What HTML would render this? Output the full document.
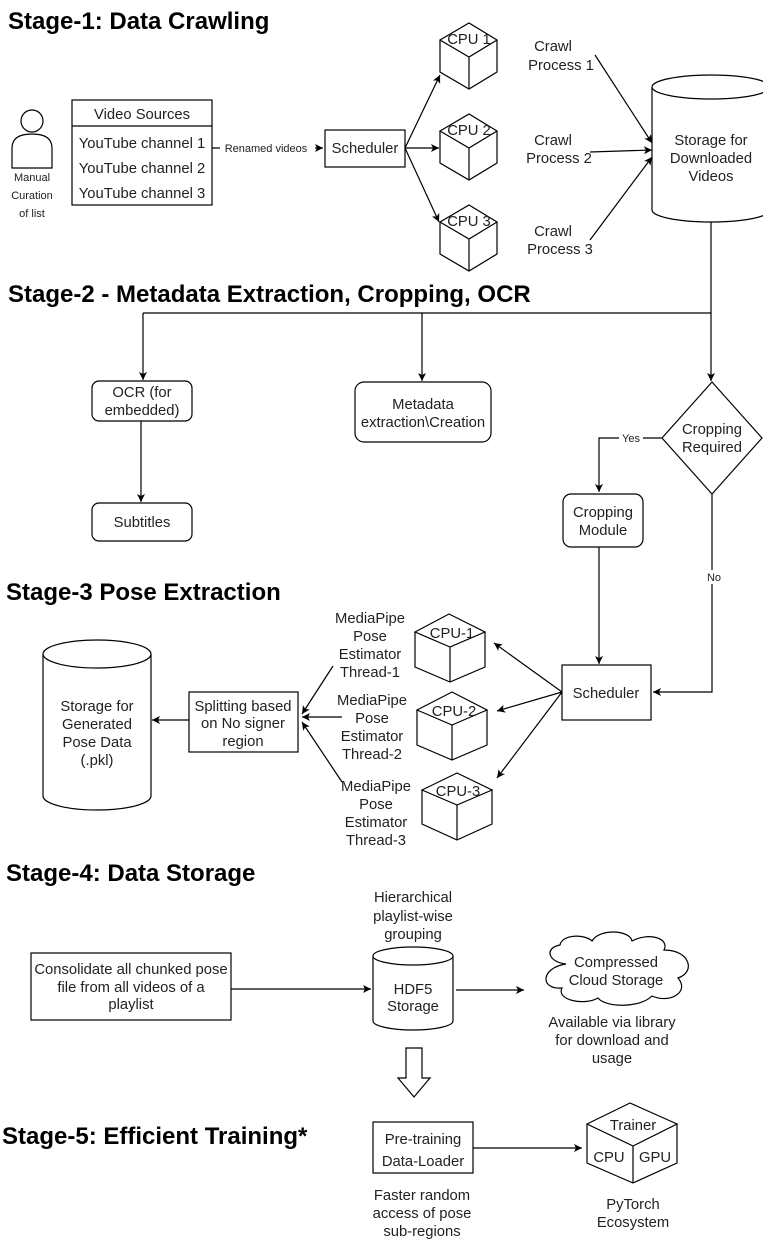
<!DOCTYPE html>
<html><head><meta charset="utf-8"><style>
html,body{margin:0;padding:0;background:#fff}
svg{display:block}
text{font-family:"Liberation Sans",Arial,sans-serif;fill:#222}
.t{font-size:14.8px;text-anchor:middle}
.s{font-size:11px;text-anchor:middle}
.h{font-size:24px;font-weight:bold;fill:#000}
.b{fill:#fff;stroke:#000;stroke-width:1.2}
.l{fill:none;stroke:#000;stroke-width:1.2}
</style></head><body>
<svg width="763" height="1240" viewBox="0 0 763 1240" xmlns="http://www.w3.org/2000/svg">
<defs><marker id="a" markerWidth="10" markerHeight="10" refX="9" refY="5" orient="auto" markerUnits="userSpaceOnUse"><path d="M1,1 L9,5 L1,9 L3,5 Z" fill="#000"/></marker></defs>

<!-- Stage 1 -->
<text x="8" y="29" class="h">Stage-1: Data Crawling</text>
<circle cx="32" cy="121" r="11" class="b"/>
<path d="M12,168 L12,148 Q12,134 32,134 Q52,134 52,148 L52,168 Z" class="b"/>
<text x="32" y="181" class="s">Manual</text>
<text x="32" y="199" class="s">Curation</text>
<text x="32" y="217" class="s">of list</text>
<rect x="72" y="100" width="140" height="105" class="b"/>
<line x1="72" y1="126" x2="212" y2="126" class="l"/>
<text x="142" y="119" class="t">Video Sources</text>
<text x="142" y="148" class="t">YouTube channel 1</text>
<text x="142" y="173" class="t">YouTube channel 2</text>
<text x="142" y="198" class="t">YouTube channel 3</text>
<line x1="212" y1="148" x2="323" y2="148" class="l" marker-end="url(#a)"/>
<rect x="220" y="141" width="95" height="14" fill="#fff"/>
<text x="266" y="152" class="s">Renamed videos</text>
<rect x="325" y="130" width="80" height="37" class="b"/>
<text x="365" y="153" class="t">Scheduler</text>
<line x1="405" y1="148" x2="440" y2="75" class="l" marker-end="url(#a)"/>
<line x1="405" y1="148" x2="439" y2="148" class="l" marker-end="url(#a)"/>
<line x1="405" y1="148" x2="439" y2="222" class="l" marker-end="url(#a)"/>

<path d="M440,40 L469,23 L497,40 L469,57 Z M440,40 L440,72 L469,89 L497,72 L497,40 M469,57 L469,89" class="b"/>
<text x="469" y="44" class="t">CPU 1</text>
<path d="M440,131 L469,114 L497,131 L469,148 Z M440,131 L440,163 L469,180 L497,163 L497,131 M469,148 L469,180" class="b"/>
<text x="469" y="135" class="t">CPU 2</text>
<path d="M440,222 L469,205 L497,222 L469,239 Z M440,222 L440,254 L469,271 L497,254 L497,222 M469,239 L469,271" class="b"/>
<text x="469" y="226" class="t">CPU 3</text>

<text x="553" y="51" class="t">Crawl</text>
<text x="561" y="70" class="t">Process 1</text>
<text x="553" y="145" class="t">Crawl</text>
<text x="559" y="163" class="t">Process 2</text>
<text x="553" y="236" class="t">Crawl</text>
<text x="560" y="254" class="t">Process 3</text>
<line x1="595" y1="55" x2="652" y2="143" class="l" marker-end="url(#a)"/>
<line x1="590" y1="152" x2="652" y2="150" class="l" marker-end="url(#a)"/>
<line x1="590" y1="240" x2="652" y2="157" class="l" marker-end="url(#a)"/>

<path d="M652,87 L652,210 A59,12 0 0 0 770,210 L770,87" class="b"/>
<ellipse cx="711" cy="87" rx="59" ry="12" class="b"/>
<text x="711" y="145" class="t">Storage for</text>
<text x="711" y="163" class="t">Downloaded</text>
<text x="711" y="181" class="t">Videos</text>

<!-- Stage 2 -->
<text x="8" y="302" class="h">Stage-2 - Metadata Extraction, Cropping, OCR</text>
<path d="M711,222 L711,313 L143,313" class="l"/>
<line x1="143" y1="313" x2="143" y2="380" class="l" marker-end="url(#a)"/>
<line x1="422" y1="313" x2="422" y2="381" class="l" marker-end="url(#a)"/>
<line x1="711" y1="313" x2="711" y2="381" class="l" marker-end="url(#a)"/>
<rect x="92" y="381" width="100" height="40" rx="7" class="b"/>
<text x="142" y="397" class="t">OCR (for</text>
<text x="142" y="415" class="t">embedded)</text>
<line x1="141" y1="421" x2="141" y2="502" class="l" marker-end="url(#a)"/>
<rect x="92" y="503" width="100" height="38" rx="7" class="b"/>
<text x="142" y="527" class="t">Subtitles</text>
<rect x="355" y="382" width="136" height="60" rx="9" class="b"/>
<text x="423" y="409" class="t">Metadata</text>
<text x="423" y="427" class="t">extraction\Creation</text>
<path d="M712,382 L762,438 L712,494 L662,438 Z" class="b"/>
<text x="712" y="434" class="t">Cropping</text>
<text x="712" y="452" class="t">Required</text>
<path d="M662,438 L599,438 L599,492" class="l" marker-end="url(#a)"/>
<rect x="619" y="431" width="24" height="13" fill="#fff"/>
<text x="631" y="442" class="s">Yes</text>
<rect x="563" y="494" width="80" height="53" rx="8" class="b"/>
<text x="603" y="517" class="t">Cropping</text>
<text x="603" y="535" class="t">Module</text>
<line x1="599" y1="547" x2="599" y2="664" class="l" marker-end="url(#a)"/>
<path d="M712,494 L712,692 L653,692" class="l" marker-end="url(#a)"/>
<rect x="704" y="570" width="18" height="14" fill="#fff"/>
<text x="714" y="581" class="s">No</text>

<!-- Stage 3 -->
<text x="6" y="600" class="h">Stage-3 Pose Extraction</text>
<rect x="562" y="665" width="89" height="55" class="b"/>
<text x="606" y="698" class="t">Scheduler</text>
<line x1="562" y1="692" x2="494" y2="643" class="l" marker-end="url(#a)"/>
<line x1="562" y1="692" x2="497" y2="711" class="l" marker-end="url(#a)"/>
<line x1="562" y1="692" x2="497" y2="778" class="l" marker-end="url(#a)"/>
<path d="M415,632 L449,614 L485,632 L450,647 Z M415,632 L415,667 L450,682 L485,667 L485,632 M450,647 L450,682" class="b"/>
<text x="452" y="638" class="t">CPU-1</text>
<path d="M417,710 L452,692 L487,710 L452,725 Z M417,710 L417,745 L452,760 L487,745 L487,710 M452,725 L452,760" class="b"/>
<text x="454" y="716" class="t">CPU-2</text>
<path d="M422,790 L457,773 L492,790 L457,805 Z M422,790 L422,824 L457,840 L492,824 L492,790 M457,805 L457,840" class="b"/>
<text x="458" y="796" class="t">CPU-3</text>
<text x="370" y="623" class="t">MediaPipe</text>
<text x="370" y="641" class="t">Pose</text>
<text x="370" y="659" class="t">Estimator</text>
<text x="370" y="677" class="t">Thread-1</text>
<text x="372" y="705" class="t">MediaPipe</text>
<text x="372" y="723" class="t">Pose</text>
<text x="372" y="741" class="t">Estimator</text>
<text x="372" y="759" class="t">Thread-2</text>
<text x="376" y="791" class="t">MediaPipe</text>
<text x="376" y="809" class="t">Pose</text>
<text x="376" y="827" class="t">Estimator</text>
<text x="376" y="845" class="t">Thread-3</text>
<line x1="333" y1="666" x2="302" y2="714" class="l" marker-end="url(#a)"/>
<line x1="342" y1="717" x2="302" y2="717" class="l" marker-end="url(#a)"/>
<line x1="342" y1="782" x2="302" y2="722" class="l" marker-end="url(#a)"/>
<rect x="189" y="692" width="109" height="60" class="b"/>
<text x="243" y="711" class="t">Splitting based</text>
<text x="243" y="728" class="t">on No signer</text>
<text x="243" y="746" class="t">region</text>
<line x1="189" y1="720" x2="152" y2="720" class="l" marker-end="url(#a)"/>
<path d="M43,654 L43,796 A54,14 0 0 0 151,796 L151,654" class="b"/>
<ellipse cx="97" cy="654" rx="54" ry="14" class="b"/>
<text x="97" y="711" class="t">Storage for</text>
<text x="97" y="729" class="t">Generated</text>
<text x="97" y="747" class="t">Pose Data</text>
<text x="97" y="765" class="t">(.pkl)</text>

<!-- Stage 4 -->
<text x="6" y="881" class="h">Stage-4: Data Storage</text>
<text x="413" y="902" class="t">Hierarchical</text>
<text x="413" y="921" class="t">playlist-wise</text>
<text x="413" y="939" class="t">grouping</text>
<rect x="31" y="953" width="200" height="67" class="b"/>
<text x="131" y="974" class="t">Consolidate all chunked pose</text>
<text x="131" y="992" class="t">file from all videos of a</text>
<text x="131" y="1009" class="t">playlist</text>
<line x1="231" y1="989" x2="371" y2="989" class="l" marker-end="url(#a)"/>
<path d="M373,956 L373,1021 A40,9 0 0 0 453,1021 L453,956" class="b"/>
<ellipse cx="413" cy="956" rx="40" ry="9" class="b"/>
<text x="413" y="994" class="t">HDF5</text>
<text x="413" y="1011" class="t">Storage</text>
<line x1="456" y1="990" x2="524" y2="990" class="l" marker-end="url(#a)"/>
<path d="M566,964 C548,962 544,948 560,945 C562,934 585,934 592,941 C600,928 630,930 632,941 C648,932 670,938 664,950 C690,950 696,972 678,978 C690,992 670,1004 652,996 C640,1008 606,1008 598,998 C584,1006 556,1000 562,988 C540,990 540,968 566,964 Z" class="b"/>
<text x="616" y="967" class="t">Compressed</text>
<text x="616" y="985" class="t">Cloud Storage</text>
<text x="612" y="1027" class="t">Available via library</text>
<text x="612" y="1045" class="t">for download and</text>
<text x="612" y="1063" class="t">usage</text>
<path d="M406,1048 L422,1048 L422,1078 L430,1078 L414,1097 L398,1078 L406,1078 Z" class="b"/>

<!-- Stage 5 -->
<text x="2" y="1144" class="h">Stage-5: Efficient Training*</text>
<rect x="373" y="1122" width="100" height="51" class="b"/>
<text x="423" y="1144" class="t">Pre-training</text>
<text x="423" y="1166" class="t">Data-Loader</text>
<line x1="473" y1="1148" x2="582" y2="1148" class="l" marker-end="url(#a)"/>
<path d="M587,1124 L630,1103 L677,1124 L633,1146 Z M587,1124 L587,1163 L633,1183 L677,1163 L677,1124 M633,1146 L633,1183" class="b"/>
<text x="633" y="1130" class="t">Trainer</text>
<text x="609" y="1162" class="t">CPU</text>
<text x="655" y="1162" class="t">GPU</text>
<text x="422" y="1200" class="t">Faster random</text>
<text x="422" y="1218" class="t">access of pose</text>
<text x="422" y="1236" class="t">sub-regions</text>
<text x="633" y="1209" class="t">PyTorch</text>
<text x="633" y="1227" class="t">Ecosystem</text>
</svg>
</body></html>
